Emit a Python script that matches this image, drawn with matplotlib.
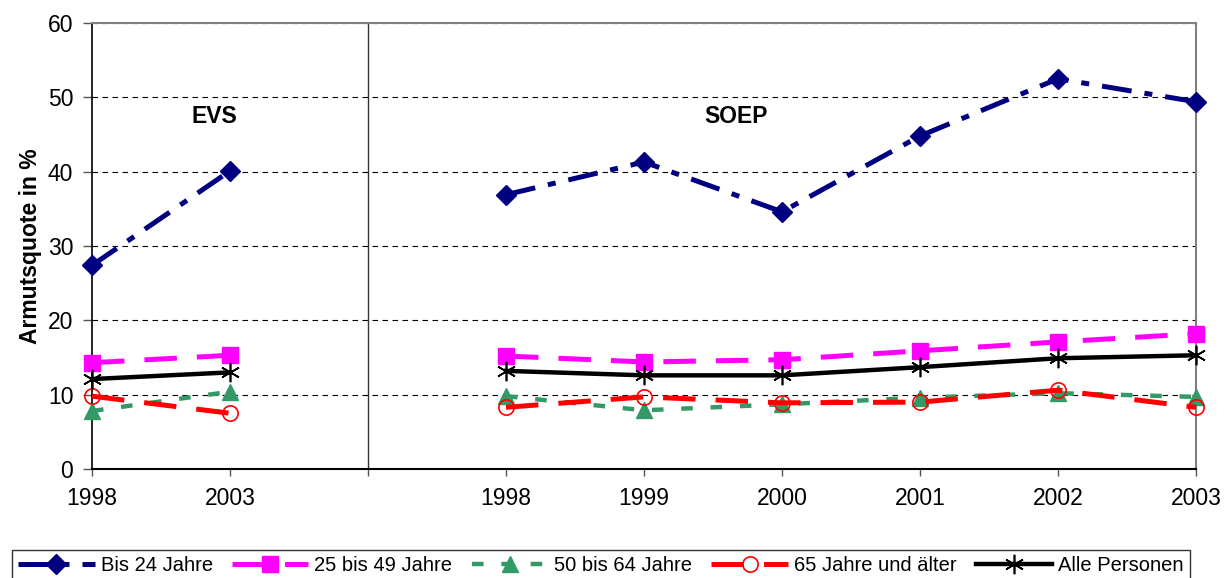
import matplotlib.pyplot as plt
import numpy as np

plt.rcParams['font.family'] = ['Liberation Sans', 'DejaVu Sans']

# category slots: EVS years, an empty separator slot, SOEP years
x_labels = ["1998", "2003", "", "1998", "1999", "2000", "2001", "2002", "2003"]
evs_x = [0, 1]
soep_x = [3, 4, 5, 6, 7, 8]

bis24_evs = [27.4, 40.1]
bis24_soep = [36.9, 41.3, 34.6, 44.8, 52.5, 49.4]
j25_49_evs = [14.3, 15.3]
j25_49_soep = [15.2, 14.4, 14.7, 15.9, 17.1, 18.2]
j50_64_evs = [7.8, 10.4]
j50_64_soep = [9.8, 7.9, 8.7, 9.6, 10.2, 9.7]
j65_evs = [9.8, 7.5]
j65_soep = [8.3, 9.7, 8.9, 9.0, 10.6, 8.3]
alle_evs = [12.1, 13.0]
alle_soep = [13.2, 12.6, 12.6, 13.7, 14.9, 15.3]

series = [
    ("Bis 24 Jahre", bis24_evs, bis24_soep, 3.6,
     dict(color="#000080", ls=(0, (6, 2.6, 1.6, 2.6)), marker="D", ms=10,
          mfc="#000080", mec="#000080")),
    ("25 bis 49 Jahre", j25_49_evs, j25_49_soep, 3.6,
     dict(color="#FF00FF", ls=(0, (6.5, 4)), marker="s", ms=11,
          mfc="#FF00FF", mec="#FF00FF")),
    ("50 bis 64 Jahre", j50_64_evs, j50_64_soep, 3.2,
     dict(color="#339966", ls=(0, (2.6, 4)), marker="^", ms=12,
          mfc="#339966", mec="#339966")),
    ("65 Jahre und älter", j65_evs, j65_soep, 3.6,
     dict(color="#FF0000", ls=(0, (6.5, 4)), marker="o", ms=11,
          mfc="none", mec="#FF0000", mew=1.2)),
    ("Alle Personen", alle_evs, alle_soep, 3.2,
     dict(color="black", ls="-", marker=(6, 2, 0), ms=14,
          mfc="black", mec="black", mew=1.2)),
]

fig = plt.figure(figsize=(12.26, 5.78), dpi=100)
ax = fig.add_axes([92 / 1226, 109 / 578, 1104 / 1226, 446 / 578])

for name, ev, so, lw, st in series:
    ax.plot(evs_x, ev, lw=lw, label=name, zorder=3, clip_on=False, **st)
    ax.plot(soep_x, so, lw=lw, zorder=3, clip_on=False, **st)

ax.set_xlim(0, 8)
ax.set_ylim(0, 60)
ax.set_xticks(range(len(x_labels)))
ax.set_xticklabels(x_labels)
ax.set_yticks(range(0, 61, 10))
ax.tick_params(axis="both", labelsize=16.5, direction="out", width=1,
               color="#555555")
ax.tick_params(axis="x", length=5, pad=8)
ax.tick_params(axis="y", length=6.5, pad=7)

ax.yaxis.grid(True, ls=(0, (5, 4)), color="black", lw=0.8)
ax.set_axisbelow(True)

for side in ["top", "right"]:
    ax.spines[side].set_color("#808080")
    ax.spines[side].set_linewidth(1.5)
ax.spines["left"].set_linewidth(1.2)
ax.spines["bottom"].set_linewidth(1.5)

# separator between EVS and SOEP
ax.axvline(2, color="#333333", lw=1.0, zorder=2)

ax.set_ylabel("Armutsquote in %", fontsize=16.5, fontweight="bold", labelpad=4)

ax.text(0.89, 47.4, "EVS", ha="center", va="center", fontsize=16.5,
        fontweight="bold")
ax.text(4.67, 47.4, "SOEP", ha="center", va="center", fontsize=16.5,
        fontweight="bold")

leg = fig.legend(loc="lower left", bbox_to_anchor=(12 / 1226, -3 / 578),
                 ncol=5, fontsize=14.5, frameon=True, fancybox=False,
                 edgecolor="black", handlelength=3.8, handletextpad=0.3,
                 columnspacing=0.95, borderpad=0.3, borderaxespad=0)
leg.get_frame().set_linewidth(1.0)

fig.savefig("out.png", dpi=100)
